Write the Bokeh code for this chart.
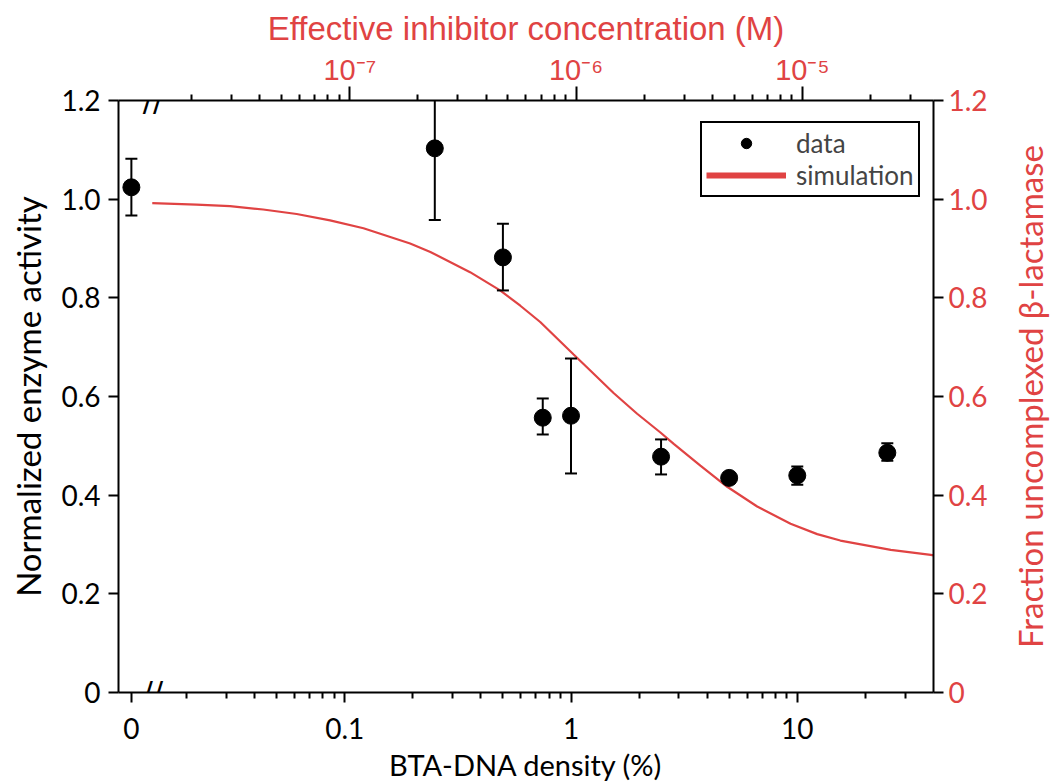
import numpy as np
from bokeh.plotting import figure
from bokeh.layouts import row
from bokeh.models import (Range1d, LogScale, LogAxis, LinearAxis, FixedTicker,
                          CustomJSTickFormatter, Label, Legend, LegendItem)
from bokeh.embed import file_html
from bokeh.resources import INLINE

# ---------------- data ----------------
density = [0, 0.25, 0.5, 0.75, 1.0, 2.5, 5.0, 10.0, 25.0]          # BTA-DNA density (%)
activity = [1.024, 1.103, 0.882, 0.557, 0.561, 0.478, 0.435, 0.440, 0.486]
err_upper = [1.082, 1.248, 0.950, 0.596, 0.677, 0.513, 0.445, 0.458, 0.505]
err_lower = [0.967, 0.958, 0.815, 0.523, 0.444, 0.442, 0.425, 0.421, 0.470]

sim_density = [0.0141, 0.0221, 0.0311, 0.0436, 0.0613, 0.0861, 0.121, 0.1945, 0.239,
               0.358, 0.486, 0.597, 0.731, 1.027, 1.259, 1.542, 1.96, 2.484, 2.844,
               3.73, 4.90, 6.65, 9.34, 12.25, 15.5, 25.9, 38.9, 40.0]
sim_fraction = [0.992, 0.989, 0.986, 0.979, 0.970, 0.957, 0.941, 0.910, 0.893,
                0.852, 0.815, 0.784, 0.751, 0.685, 0.646, 0.607, 0.565, 0.527, 0.504,
                0.460, 0.417, 0.377, 0.342, 0.321, 0.308, 0.289, 0.279, 0.278]

bottom_major = [0.1, 1, 10]
bottom_minor = [0.02, 0.03, 0.04, 0.05, 0.06, 0.07, 0.08, 0.09,
                0.2, 0.3, 0.4, 0.5, 0.6, 0.7, 0.8, 0.9,
                2, 3, 4, 5, 6, 7, 8, 9, 20, 30]
top_major = [1e-7, 1e-6, 1e-5]
top_minor = [2e-8, 3e-8, 4e-8, 5e-8, 6e-8, 7e-8, 8e-8, 9e-8,
             2e-7, 3e-7, 4e-7, 5e-7, 6e-7, 7e-7, 8e-7, 9e-7,
             2e-6, 3e-6, 4e-6, 5e-6, 6e-6, 7e-6, 8e-6, 9e-6,
             2e-5, 3e-5]
y_ticks = [0, 0.2, 0.4, 0.6, 0.8, 1.0, 1.2]

ZERO_POS = 0.0114        # where the "0" density is placed on the broken log axis
CONC_PER_PCT = 0.95e-6   # M per % density (top axis mapping)
X_START, X_END = 0.01, 40
Y_START, Y_END = 0, 1.2

RED = "#E04343"
FONT = "Lato"

x_plot = [ZERO_POS if d == 0 else d for d in density]

p = figure(frame_width=815, frame_height=592,
           x_axis_type="log", x_range=Range1d(X_START, X_END), y_range=Range1d(Y_START, Y_END),
           output_backend="svg", toolbar_location=None,
           min_border_left=118, min_border_top=100, min_border_right=64, min_border_bottom=86)
p.grid.visible = False
p.outline_line_color = None
p.background_fill_color = "white"

# bottom axis
xa = p.xaxis[0]
xa.ticker = FixedTicker(ticks=[ZERO_POS] + bottom_major, minor_ticks=bottom_minor)
xa.formatter = CustomJSTickFormatter(code="return tick < 0.05 ? '0' : tick.toString();")
xa.axis_label = "BTA-DNA density (%)"

# left axis
ya = p.yaxis[0]
ya.ticker = FixedTicker(ticks=y_ticks)
ya.formatter = CustomJSTickFormatter(code="return tick == 0 ? '0' : tick.toFixed(1);")
ya.axis_label = "Normalized enzyme activity"

for ax in (xa, ya):
    ax.axis_line_width = 2
    ax.major_tick_line_width = 2
    ax.minor_tick_line_width = 2
    ax.major_tick_in = 0
    ax.minor_tick_in = 0
    ax.major_tick_out = 10
    ax.minor_tick_out = 6
    ax.major_label_text_font = FONT
    ax.major_label_text_font_size = "28px"
    ax.major_label_text_color = "black"
    ax.axis_label_text_font = FONT
    ax.axis_label_text_font_style = "normal"
    ax.axis_label_text_color = "black"
ya.minor_tick_out = 0
xa.axis_label_text_font_size = "29px"
ya.axis_label_text_font_size = "33px"
xa.major_label_standoff = 15
xa.axis_label_standoff = 5
ya.major_label_standoff = 8
ya.axis_label_standoff = 10

# top axis (concentration)
p.extra_x_ranges = {"conc": Range1d(X_START * CONC_PER_PCT, X_END * CONC_PER_PCT)}
p.extra_x_scales = {"conc": LogScale()}
ta = LogAxis(x_range_name="conc")
ta.ticker = FixedTicker(ticks=top_major, minor_ticks=top_minor)
ta.formatter = CustomJSTickFormatter(code="""
const e = Math.round(Math.log10(tick));
const m = {'-':'\u207b','0':'\u2070','1':'\u00b9','2':'\u00b2','3':'\u00b3','4':'\u2074',
           '5':'\u2075','6':'\u2076','7':'\u2077','8':'\u2078','9':'\u2079'};
return '10' + String(e).split('').map(c => m[c]).join('');
""")
ta.axis_label = "Effective inhibitor concentration (M)"
ta.axis_line_width = 2
ta.major_tick_line_width = 2
ta.minor_tick_line_width = 2
ta.major_tick_in = 0
ta.minor_tick_in = 0
ta.major_tick_out = 14
ta.minor_tick_out = 6
ta.major_label_text_font = "Liberation Sans"
ta.major_label_text_font_size = "29px"
ta.major_label_text_color = RED
ta.major_label_standoff = 1
ta.axis_label_text_font = "Liberation Sans"
ta.axis_label_text_font_size = "33px"
ta.axis_label_text_font_style = "normal"
ta.axis_label_text_color = RED
ta.axis_label_standoff = 4
p.add_layout(ta, "above")

# right axis (ticks and labels; its title is drawn in the side strip below)
p.extra_y_ranges = {"frac": Range1d(Y_START, Y_END)}
ra = LinearAxis(y_range_name="frac")
ra.ticker = FixedTicker(ticks=y_ticks)
ra.formatter = CustomJSTickFormatter(code="return tick == 0 ? '0' : tick.toFixed(1);")
ra.axis_line_width = 2
ra.major_tick_line_width = 2
ra.major_tick_in = 0
ra.major_tick_out = 10
ra.minor_tick_out = 0
ra.major_label_text_font = FONT
ra.major_label_text_font_size = "28px"
ra.major_label_text_color = RED
ra.major_label_standoff = 5
p.add_layout(ra, "right")

# simulation curve
p.line(sim_density, sim_fraction, line_color=RED, line_width=2.2)
legend_line = p.line(x=[1.0], y=[np.nan], line_color=RED, line_width=6)

# error bars (clipped to frame)
p.segment(x0=x_plot, y0=err_lower, x1=x_plot, y1=err_upper, line_color="black", line_width=2)
p.scatter(x_plot + x_plot, err_lower + err_upper, marker="dash", size=12,
          line_color="black", line_width=2)
pts = p.scatter(x_plot, activity, marker="circle", size=17, fill_color="black", line_color="black")

# axis break marks
for yv in (Y_START, Y_END):
    p.add_layout(Label(x=0.0142, y=yv, text="//", text_font="DejaVu Sans",
                       text_font_size="30px", text_color="black",
                       text_align="center", text_baseline="middle"))

legend = Legend(items=[LegendItem(label="data", renderers=[pts]),
                       LegendItem(label="simulation", renderers=[legend_line])],
                location=(582, 495))
legend.border_line_color = "black"
legend.border_line_alpha = 1
legend.border_line_width = 2
legend.label_text_font = FONT
legend.label_text_font_size = "26px"
legend.glyph_width = 80
legend.glyph_height = 26
legend.label_height = 26
legend.spacing = 0
legend.padding = 4
legend.margin = 0
legend.label_standoff = 10
legend.background_fill_alpha = 1
p.add_layout(legend)

# narrow strip on the right that carries the right-hand title, reading bottom-to-top
p2 = figure(frame_width=1, frame_height=592, x_axis_location=None, y_axis_location="left",
            x_range=Range1d(0, 1), y_range=Range1d(Y_START, Y_END),
            output_backend="svg", toolbar_location=None,
            min_border_left=52, min_border_right=0, min_border_top=100, min_border_bottom=86)
p2.grid.visible = False
p2.outline_line_color = None
ry = p2.yaxis[0]
ry.ticker = FixedTicker(ticks=[])
ry.axis_label = "Fraction uncomplexed \u03b2-lactamase"
ry.axis_label_text_font = FONT
ry.axis_label_text_font_size = "33px"
ry.axis_label_text_font_style = "normal"
ry.axis_label_text_color = RED
ry.axis_label_standoff = 0
ry.axis_line_color = None
ry.major_tick_out = 0
ry.minor_tick_out = 0
ry.major_tick_in = 0
ry.minor_tick_in = 0
ry.major_label_text_font_size = "0px"
ry.major_label_standoff = 0

layout = row(p, p2)
open("out.html", "w").write(file_html(layout, INLINE))
